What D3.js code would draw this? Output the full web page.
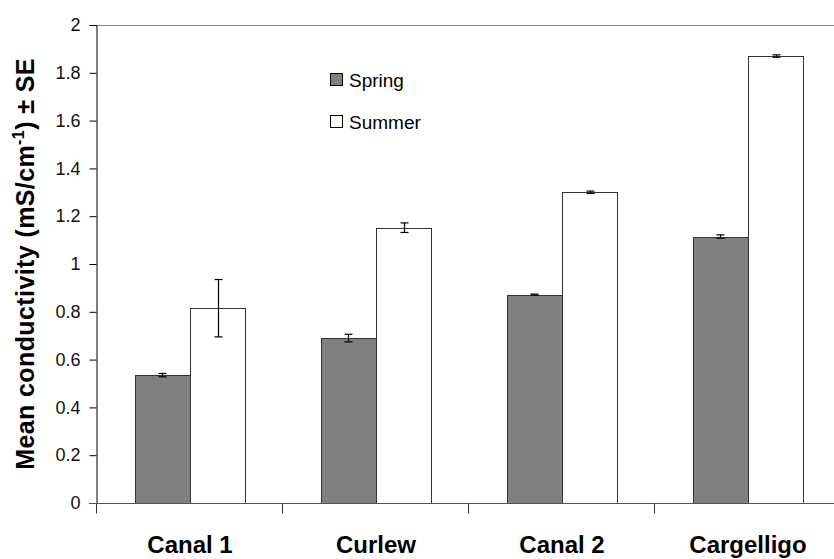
<!DOCTYPE html>
<meta charset="utf-8">
<title>Mean conductivity</title>
<style>
body { margin: 0; background: #fff; }
svg { display: block; font-family: Arial, "Liberation Sans", sans-serif; }
</style>
<body></body>
<script src="https://d3js.org/d3.v7.min.js"></script>
<script>
var sites = ['Canal 1', 'Curlew', 'Canal 2', 'Cargelligo'];
var seasons = ['Spring', 'Summer'];
var springMean = [0.535, 0.69, 0.872, 1.115];
var springSE = [0.007, 0.016, 0.002, 0.007];
var summerMean = [0.815, 1.152, 1.300, 1.870];
var summerSE = [0.12, 0.02, 0.005, 0.005];
var yTicks = [0, 0.2, 0.4, 0.6, 0.8, 1, 1.2, 1.4, 1.6, 1.8, 2];

var chartWidth = 834, chartHeight = 559;
var plotLeft = 97, plotRight = 841, plotTop = 25, plotBottom = 503;
var seasonFill = { Spring: '#808080', Summer: '#ffffff' };

var svg = d3.select('body').append('svg')
  .attr('width', chartWidth)
  .attr('height', chartHeight);

var x = d3.scaleBand().domain(sites).range([plotLeft, plotRight]).paddingInner(0).paddingOuter(0);
var inner = d3.scaleBand().domain(seasons).range([0, x.bandwidth()]).paddingOuter(0.69);
var y = d3.scaleLinear().domain([0, 2]).range([plotBottom, plotTop]);

var rows = [];
sites.forEach(function (s, i) {
  rows.push({ site: s, season: 'Spring', mean: springMean[i], se: springSE[i] });
  rows.push({ site: s, season: 'Summer', mean: summerMean[i], se: summerSE[i] });
});

// top border of plot area
svg.append('line')
  .attr('x1', plotLeft).attr('x2', plotRight)
  .attr('y1', plotTop + 0.5).attr('y2', plotTop + 0.5)
  .attr('stroke', '#888').attr('stroke-width', 1);

// bars
svg.append('g').selectAll('rect')
  .data(rows)
  .enter().append('rect')
  .attr('x', function (d) { return Math.round(x(d.site) + inner(d.season)) + 0.5; })
  .attr('width', Math.round(inner.bandwidth()))
  .attr('y', function (d) { return Math.round(y(d.mean)) + 0.5; })
  .attr('height', function (d) { return Math.round(y(0)) - Math.round(y(d.mean)); })
  .attr('fill', function (d) { return seasonFill[d.season]; })
  .attr('stroke', '#333')
  .attr('stroke-width', 1);

// error bars
var err = svg.append('g').attr('stroke', '#000').attr('stroke-width', 1.2);
rows.forEach(function (d) {
  var cx = Math.round(x(d.site) + inner(d.season) + inner.bandwidth() / 2) + 0.5;
  var y1 = y(d.mean + d.se), y2 = y(d.mean - d.se);
  err.append('line').attr('x1', cx).attr('x2', cx).attr('y1', y1).attr('y2', y2);
  err.append('line').attr('x1', cx - 4).attr('x2', cx + 4).attr('y1', y1).attr('y2', y1);
  err.append('line').attr('x1', cx - 4).attr('x2', cx + 4).attr('y1', y2).attr('y2', y2);
});

// y axis
var yAxis = svg.append('g')
  .attr('transform', 'translate(' + (plotLeft - 0.5) + ',0)')
  .call(d3.axisLeft(y).tickValues(yTicks).tickSize(7).tickPadding(9)
    .tickFormat(function (d) { return String(+d.toFixed(1)); }));
yAxis.select('.domain').attr('stroke', '#000');
yAxis.selectAll('.tick line').attr('stroke', '#000');
yAxis.selectAll('text').attr('font-size', 18).attr('fill', '#111')
  .attr('font-family', 'Arial, "Liberation Sans", sans-serif');

// x axis
var xAxis = svg.append('g')
  .attr('transform', 'translate(0,' + (plotBottom + 0.5) + ')');
xAxis.append('line')
  .attr('x1', plotLeft - 7).attr('x2', plotRight)
  .attr('stroke', '#555');
xAxis.selectAll('.sep')
  .data(sites)
  .enter().append('line')
  .attr('class', 'sep')
  .attr('x1', function (d) { return Math.round(x(d)) - 0.5; })
  .attr('x2', function (d) { return Math.round(x(d)) - 0.5; })
  .attr('y1', 0).attr('y2', 10)
  .attr('stroke', '#333');
xAxis.selectAll('.lab')
  .data(sites)
  .enter().append('text')
  .attr('class', 'lab')
  .attr('x', function (d) { return x(d) + x.bandwidth() / 2; })
  .attr('y', 49.5)
  .attr('text-anchor', 'middle')
  .attr('font-size', 24)
  .attr('font-weight', 'bold')
  .text(function (d) { return d; });

// y title
var title = svg.append('text')
  .attr('transform', 'translate(34,264) rotate(-90)')
  .attr('text-anchor', 'middle')
  .attr('font-size', 25)
  .attr('letter-spacing', 0.4)
  .attr('font-weight', 'bold');
title.append('tspan').text('Mean conductivity (mS/cm');
title.append('tspan').attr('dy', -10).attr('font-size', 16).text('-1');
title.append('tspan').attr('dy', 10).text(') \u00b1 SE');

// legend
var legend = svg.append('g').attr('transform', 'translate(330,73)');
seasons.forEach(function (s, i) {
  var g = legend.append('g').attr('transform', 'translate(0,' + i * 42 + ')');
  g.append('rect')
    .attr('x', 0.5).attr('y', 0.5).attr('width', 12).attr('height', 12)
    .attr('fill', seasonFill[s]).attr('stroke', '#000');
  g.append('text')
    .attr('x', 19).attr('y', 13.5)
    .attr('font-size', 19)
    .text(s);
});
</script>
